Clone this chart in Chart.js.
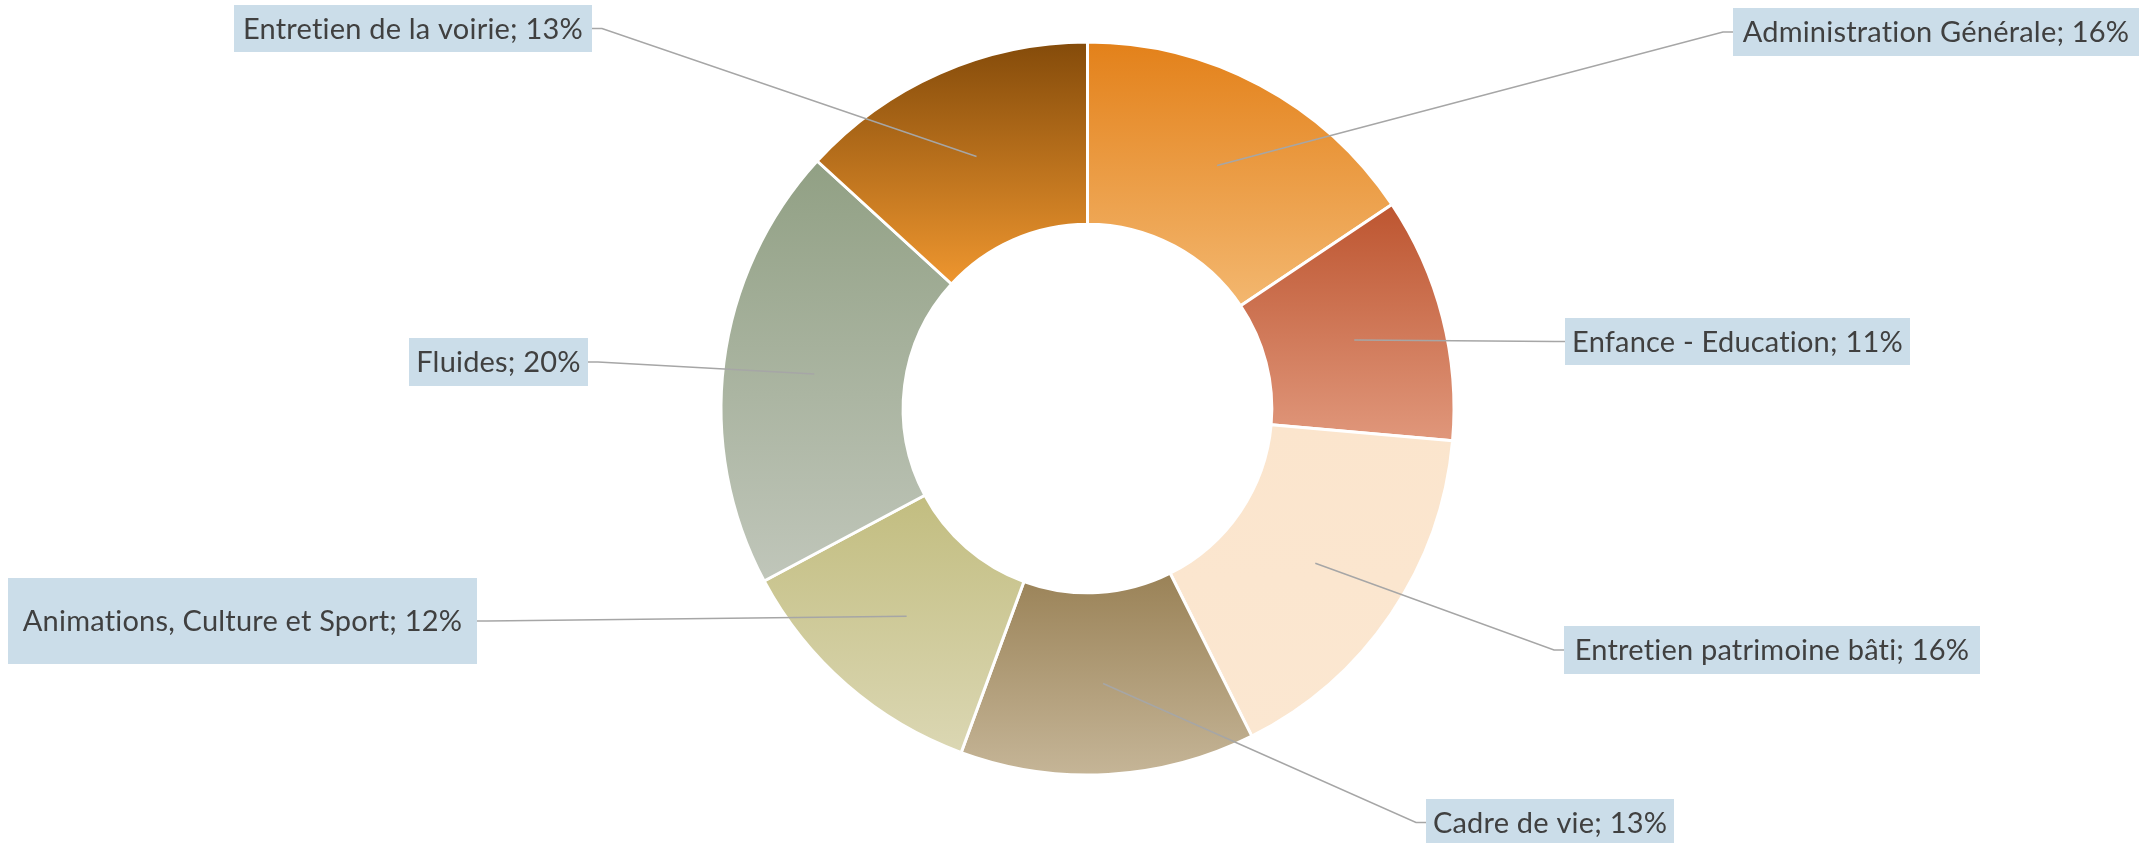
<!DOCTYPE html>
<html><head><meta charset="utf-8">
<script src="https://cdn.jsdelivr.net/npm/chart.js@4.4.1/dist/chart.umd.min.js"></script>
<style>html,body{margin:0;padding:0;background:#fff;overflow:hidden}#wrap{width:2149px;height:843px;position:relative}</style>
</head><body><div id="wrap"><canvas id="c" width="2149" height="843"></canvas></div>
<script>
// ---- data ----
const categories = ["Administration Générale","Enfance - Education","Entretien patrimoine bâti","Cadre de vie","Animations, Culture et Sport","Fluides","Entretien de la voirie"];
const shares = [15.6, 10.8, 16.2, 13.0, 11.6, 19.6, 13.2];
// ---- styles ----
const gradientTop =    ["#E3811A","#BD5530","#FBE5CD","#9A8257","#C2BD80","#91A084","#844B0A"];
const gradientBottom = ["#F3B76F","#E0977B","#FBE7D1","#C5B597","#DBD7B3","#C0C6BA","#EE962F"];
// label box layout (canvas px)
const labelBoxes = [
  {x:1733,y:8,w:406,h:48},
  {x:1565,y:318,w:345,h:47},
  {x:1564,y:626,w:416,h:48},
  {x:1426,y:799,w:248,h:47},
  {x:8,y:578,w:469,h:86},
  {x:409,y:338,w:179,h:48},
  {x:234,y:5,w:358,h:47}
];

const gradientPlugin = {
  id:'sliceGradient',
  beforeDatasetsDraw(chart){
    const ctx = chart.ctx;
    const meta = chart.getDatasetMeta(0);
    meta.data.forEach((arc,i)=>{
      const {x,y,startAngle,endAngle,innerRadius,outerRadius} = arc.getProps(['x','y','startAngle','endAngle','innerRadius','outerRadius'],true);
      let minY=Infinity,maxY=-Infinity;
      const n=60;
      for(let k=0;k<=n;k++){
        const a=startAngle+(endAngle-startAngle)*k/n;
        for(const r of [innerRadius,outerRadius]){
          const yy=y+r*Math.sin(a);
          if(yy<minY)minY=yy; if(yy>maxY)maxY=yy;
        }
      }
      const g=ctx.createLinearGradient(0,minY,0,maxY);
      g.addColorStop(0,gradientTop[i]);
      g.addColorStop(1,gradientBottom[i]);
      arc.options.backgroundColor=g;
    });
  }
};

const labelPlugin = {
  id:'calloutLabels',
  afterDatasetsDraw(chart){
    const ctx=chart.ctx;
    const meta=chart.getDatasetMeta(0);
    const ds=chart.data.datasets[0].data;
    const total=ds.reduce((a,b)=>a+b,0);
    const cx=(chart.chartArea.left+chart.chartArea.right)/2;
    ctx.save();
    ctx.strokeStyle='#A6A6A6';
    ctx.lineWidth=1.5;
    meta.data.forEach((arc,i)=>{
      const p=arc.getCenterPoint();
      const b=labelBoxes[i];
      const by=b.y+b.h/2;
      const right=(b.x+b.w/2)>cx;
      const ex=right?b.x:b.x+b.w;
      const kx=right?ex-10:ex+10;
      ctx.beginPath();
      ctx.moveTo(p.x,p.y);
      ctx.lineTo(kx,by);
      ctx.lineTo(ex,by);
      ctx.stroke();
    });
    ctx.font='29px Lato';
    if ('letterSpacing' in ctx) ctx.letterSpacing='0.2px';
    ctx.textAlign='center';
    ctx.textBaseline='middle';
    meta.data.forEach((arc,i)=>{
      const b=labelBoxes[i];
      ctx.fillStyle='#CBDDE9';
      ctx.fillRect(b.x,b.y,b.w,b.h);
      ctx.fillStyle='#404040';
      const pct=Math.round(ds[i]/total*100);
      ctx.fillText(categories[i]+'; '+pct+'%', b.x+b.w/2, b.y+b.h/2+1);
    });
    ctx.restore();
  }
};

new Chart(document.getElementById('c'),{
  type:'doughnut',
  data:{labels:categories,datasets:[{data:shares,backgroundColor:gradientTop,borderColor:'#FFFFFF',borderWidth:3}]},
  options:{
    responsive:false,
    devicePixelRatio:1,
    animation:false,
    cutout:'50.3%',
    layout:{padding:{left:26,right:0,top:40.5,bottom:66.5}},
    plugins:{legend:{display:false},tooltip:{enabled:false}}
  },
  plugins:[gradientPlugin,labelPlugin]
});
</script></body></html>
